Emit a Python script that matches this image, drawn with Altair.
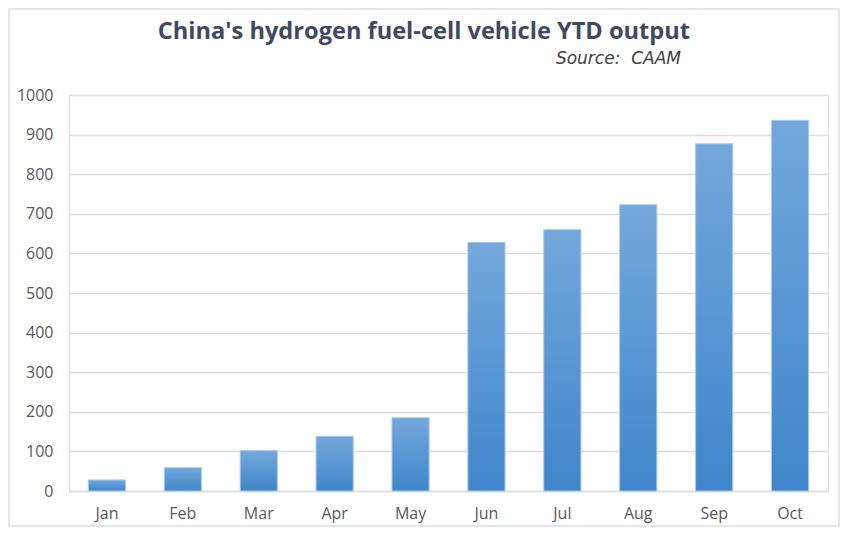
import altair as alt
import pandas as pd

months = ["Jan", "Feb", "Mar", "Apr", "May", "Jun", "Jul", "Aug", "Sep", "Oct"]
output = [28, 59, 102, 138, 185, 628, 660, 723, 877, 936]
y_ticks = [0, 100, 200, 300, 400, 500, 600, 700, 800, 900, 1000]
title_text = "China's hydrogen fuel-cell vehicle YTD output"
source_text = "Source:\u00a0\u00a0CAAM"

df = pd.DataFrame({"month": months, "output": output})

W, H = 759, 396
PL, PT, PR, PB = 61, 87, 12, 36

grad = alt.Gradient(
    gradient="linear",
    stops=[alt.GradientStop(color="#74a8dc", offset=0),
           alt.GradientStop(color="#3f86cb", offset=1)],
    x1=0, x2=0, y1=0, y2=1,
)

bars = alt.Chart(df).mark_bar(fill=grad, stroke="#a9cbec", strokeWidth=1).encode(
    x=alt.X("month:N", sort=months, title=None,
            scale=alt.Scale(paddingInner=0.51, paddingOuter=0.255),
            axis=alt.Axis(labelAngle=0, labelFontSize=16, labelColor="#595959",
                          labelFont="Open Sans", labelPadding=14, ticks=False,
                          domainColor="#d9dde3", domainWidth=1.5)),
    y=alt.Y("output:Q", title=None,
            scale=alt.Scale(domain=[0, 1000], nice=False),
            axis=alt.Axis(values=y_ticks, format="d", labelFontSize=16,
                          labelColor="#595959",
                          labelFont="Open Sans", labelPadding=16, ticks=False,
                          domain=False, gridColor="#d9dde3", gridWidth=1.5)),
)

title_df = pd.DataFrame({"t": [title_text]})
title = alt.Chart(title_df).mark_text(
    align="right", baseline="alphabetic", font="Open Sans", fontSize=23.6,
    fontWeight="bold", color="#3e4a61"
).encode(text="t:N", x=alt.value(621), y=alt.value(-56))

src_df = pd.DataFrame({"t": [source_text]})
source = alt.Chart(src_df).mark_text(
    align="right", baseline="alphabetic", font="DejaVu Sans", fontSize=17,
    fontStyle="italic", color="#404040"
).encode(text="t:N", x=alt.value(612), y=alt.value(-31))

border = alt.Chart(src_df).mark_rect(
    fill="transparent", stroke="#d9dde3", strokeWidth=1.5
).encode(x=alt.value(-PL + 1), x2=alt.value(W + PR - 1),
         y=alt.value(-PT + 1), y2=alt.value(H + PB - 1))

chart = alt.layer(border, bars, title, source).properties(
    width=W, height=H,
    autosize=alt.AutoSizeParams(type="none"),
    padding={"left": PL, "top": PT, "right": PR, "bottom": PB},
).configure_view(stroke=None).configure(background="white")

chart.save("out.html", embed_options={"renderer": "svg", "actions": False})
